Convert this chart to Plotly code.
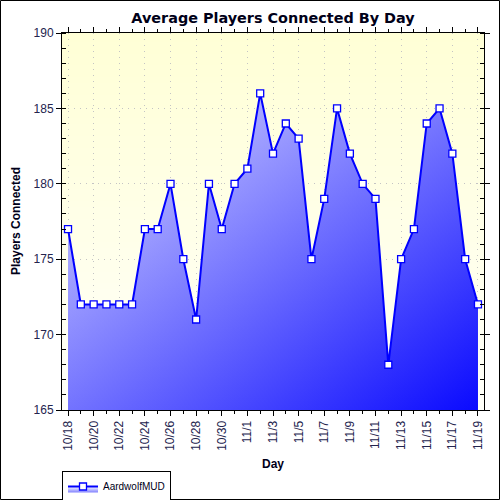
import base64
import struct
import zlib

import plotly.graph_objects as go

# ---------------- data ----------------
days = ["10/18", "10/19", "10/20", "10/21", "10/22", "10/23", "10/24", "10/25",
        "10/26", "10/27", "10/28", "10/29", "10/30", "10/31", "11/1", "11/2",
        "11/3", "11/4", "11/5", "11/6", "11/7", "11/8", "11/9", "11/10",
        "11/11", "11/12", "11/13", "11/14", "11/15", "11/16", "11/17", "11/18",
        "11/19"]
players = [177, 172, 172, 172, 172, 172, 177, 177,
           180, 175, 171, 180, 177, 180, 181, 186,
           182, 184, 183, 175, 179, 185, 182, 180,
           179, 168, 175, 177, 184, 185, 182, 175,
           172]
series_name = "AardwolfMUD"
y_ticks = [165, 170, 175, 180, 185, 190]

xs = list(range(len(days)))
tick_idx = xs[::2]
tick_txt = [days[i] for i in tick_idx]
y_lo, y_hi = y_ticks[0], y_ticks[-1]
x_lo, x_hi = -0.47, len(days) - 1 + 0.47

FONT = "Liberation Sans, Arial, sans-serif"
TITLE_FONT = "DejaVu Sans, Verdana, sans-serif"
LABEL_COLOR = "#24244e"
TITLE_COLOR = "#000018"


# ---------- background gradient image (pale yellow -> white) ----------
def gradient_png(top, bottom, n=64):
    rows = b""
    for i in range(n):
        t = i / (n - 1)
        c = bytes(int(round(top[k] + (bottom[k] - top[k]) * t)) for k in range(3))
        rows += b"\x00" + c
    def chunk(tag, data):
        return (struct.pack(">I", len(data)) + tag + data +
                struct.pack(">I", zlib.crc32(tag + data) & 0xffffffff))
    png = b"\x89PNG\r\n\x1a\n"
    png += chunk(b"IHDR", struct.pack(">IIBBBBB", 1, n, 8, 2, 0, 0, 0))
    png += chunk(b"IDAT", zlib.compress(rows))
    png += chunk(b"IEND", b"")
    return "data:image/png;base64," + base64.b64encode(png).decode()


bg_src = gradient_png((255, 255, 214), (255, 255, 250))

fig = go.Figure()

# base fill: horizontal gradient
fig.add_trace(go.Scatter(
    x=xs, y=players, mode="none", fill="tozeroy",
    fillgradient=dict(type="horizontal", start=xs[0], stop=xs[-1],
                      colorscale=[[0, "rgb(230,230,255)"], [1, "rgb(20,20,255)"]]),
    showlegend=False, hoverinfo="skip"))

# overlay fill: vertical gradient at 50% -> diagonal look, plus line & markers
fig.add_trace(go.Scatter(
    x=xs, y=players, mode="lines+markers", fill="tozeroy",
    name=series_name,
    fillgradient=dict(type="vertical", start=y_lo, stop=y_hi,
                      colorscale=[[0, "rgba(0,0,255,0.5)"], [1, "rgba(255,255,255,0.5)"]]),
    line=dict(color="#0000ff", width=2),
    marker=dict(symbol="square", size=7, color="white",
                line=dict(color="#0000ff", width=1.3))))

# outer image border
W, H = 500, 500
L, R, T, B = 62, 16, 33, 90
pw, ph = W - L - R, H - T - B
fig.add_shape(type="rect", xref="paper", yref="paper",
              x0=(0.5 - L) / pw, x1=(W - 0.5 - L) / pw,
              y0=(T + ph - (H - 0.5)) / ph, y1=(T + ph - 0.5) / ph,
              line=dict(color="black", width=1), fillcolor="rgba(0,0,0,0)")

fig.add_layout_image(dict(source=bg_src, xref="paper", yref="paper",
                          x=0, y=1, sizex=1, sizey=1, sizing="stretch",
                          xanchor="left", yanchor="top", layer="below"))

# axis titles as annotations (pixel-positioned)
fig.add_annotation(text="<b>Players Connected</b>", textangle=-90, showarrow=False,
                   xref="paper", yref="paper",
                   x=(16 - L) / pw, y=(T + ph - 221) / ph,
                   xanchor="center", yanchor="middle",
                   font=dict(family=FONT, size=12, color=TITLE_COLOR))
fig.add_annotation(text="<b>Day</b>", showarrow=False,
                   xref="paper", yref="paper",
                   x=0.5, y=(T + ph - 464) / ph,
                   xanchor="center", yanchor="middle",
                   font=dict(family=FONT, size=12, color=TITLE_COLOR))

fig.update_layout(
    width=W, height=H,
    margin=dict(l=L, r=R, t=T, b=B, autoexpand=False),
    paper_bgcolor="white",
    plot_bgcolor="rgba(0,0,0,0)",
    font=dict(family=FONT, size=12, color=LABEL_COLOR),
    title=dict(text="<b>Average Players Connected By Day</b>",
               font=dict(family=TITLE_FONT, size=14.4, color=TITLE_COLOR),
               x=(L + pw / 2) / W, xanchor="center", y=1 - 18 / H, yanchor="middle"),
    legend=dict(xref="container", yref="container",
                x=62 / W, y=1 - 471 / H, xanchor="left", yanchor="top",
                bordercolor="black", borderwidth=1, bgcolor="white",
                font=dict(family=FONT, size=10, color=TITLE_COLOR),
                itemwidth=30, tracegroupgap=0),
    showlegend=True,
)

fig.update_xaxes(
    range=[x_lo, x_hi], tickmode="array", tickvals=tick_idx, ticktext=tick_txt,
    tickangle=-90, ticks="outside", ticklen=5, tickcolor="black",
    showline=True, linecolor="black", linewidth=1, mirror="ticks",
    showgrid=True, gridcolor="#c4c4c4", griddash="1px,5px", gridwidth=1,
    zeroline=False,
    minor=dict(tickmode="array", tickvals=xs, ticks="outside", ticklen=3,
               tickcolor="black", showgrid=False),
    tickfont=dict(family=FONT, size=12, color=LABEL_COLOR),
)

fig.update_yaxes(
    range=[y_lo, y_hi], tickmode="array", tickvals=y_ticks,
    ticks="outside", ticklen=5, tickcolor="black",
    showline=True, linecolor="black", linewidth=1, mirror="ticks",
    showgrid=True, gridcolor="#c4c4c4", griddash="1px,5px", gridwidth=1,
    zeroline=False,
    minor=dict(dtick=1, ticks="inside", ticklen=4, tickcolor="black", showgrid=False),
    tickfont=dict(family=FONT, size=12, color=LABEL_COLOR),
)

fig.write_html("out.html",
               config={"displayModeBar": False},
               post_script="document.body.style.margin='0';"
                           "document.documentElement.style.overflow='hidden';")
